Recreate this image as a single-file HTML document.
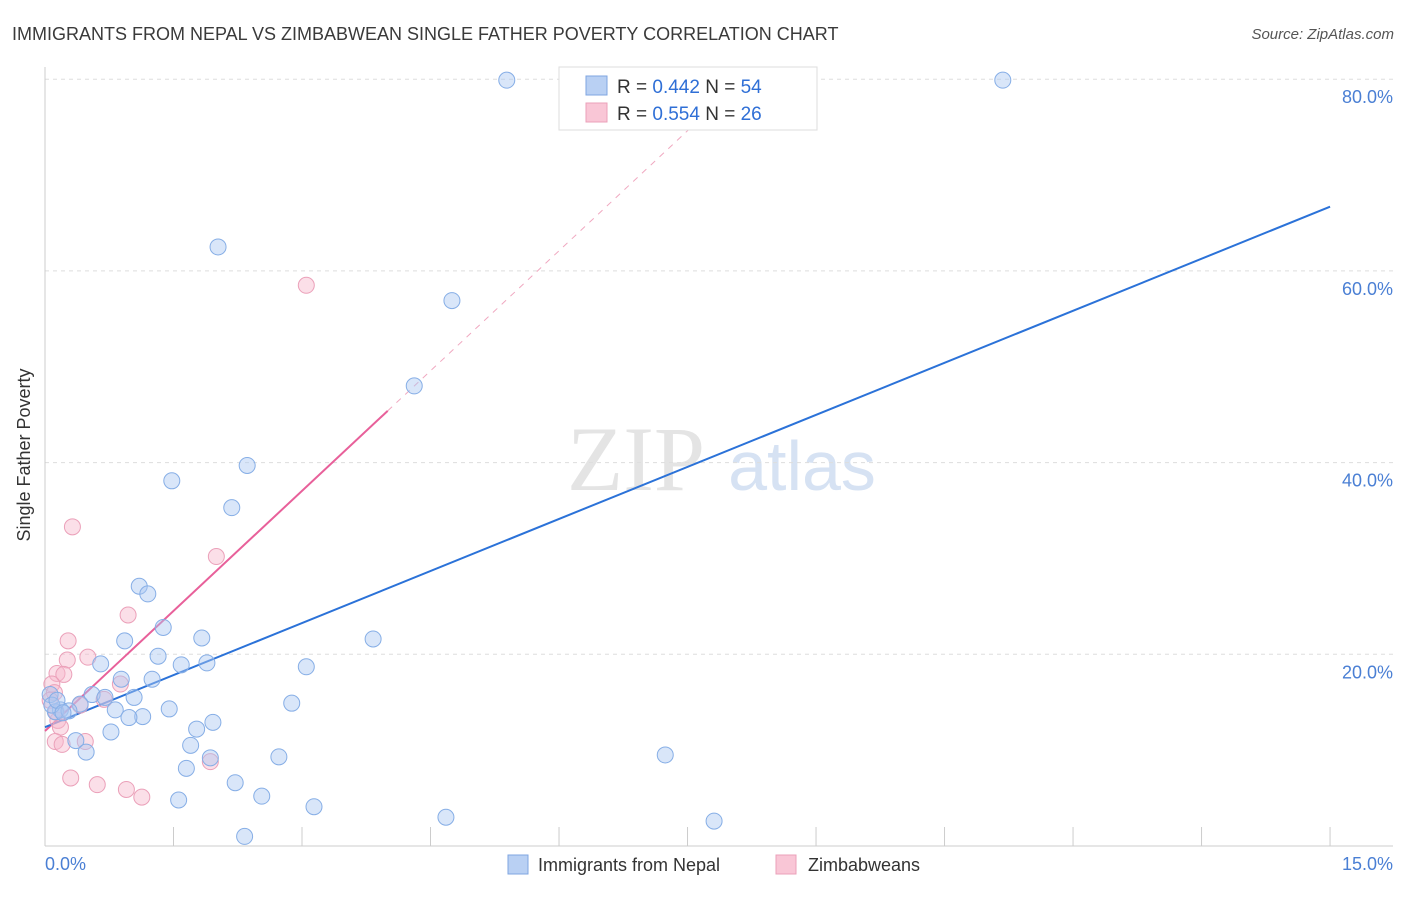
<!DOCTYPE html>
<html><head><meta charset="utf-8"><style>
body{margin:0;background:#fff;font-family:"Liberation Sans",sans-serif}
</style></head><body>
<svg id="chart" width="1406" height="892" xmlns="http://www.w3.org/2000/svg">
<text x="12" y="40" font-size="18" fill="#3a3a3a">IMMIGRANTS FROM NEPAL VS ZIMBABWEAN SINGLE FATHER POVERTY CORRELATION CHART</text>
<text x="1394" y="39" font-size="15" fill="#555" font-style="italic" text-anchor="end">Source: ZipAtlas.com</text>
<g>
<text x="636" y="490" font-size="92" fill="#e4e4e4" font-family="Liberation Serif" text-anchor="middle">ZIP</text>
<text x="802" y="490" font-size="70" fill="#d6e2f3" text-anchor="middle">atlas</text>
</g>
<g id="grid"></g>
<g id="axes"></g>
<g id="lines"></g>
<g id="points"></g>
<text x="30" y="455" font-size="18" fill="#333" transform="rotate(-90 30 455)" text-anchor="middle">Single Father Poverty</text>
<text x="45" y="870" font-size="18" fill="#4a7fd4">0.0%</text>
<text x="1393" y="870" font-size="18" fill="#4a7fd4" text-anchor="end">15.0%</text>
<g>
<rect x="559" y="67" width="258" height="63" fill="#fff" stroke="#ddd"/>
<rect x="586" y="76" width="21" height="19" fill="#b9d0f3" stroke="#7fa6e0"/>
<rect x="586" y="103" width="21" height="19" fill="#f9c6d6" stroke="#eba0b9"/>
<text x="617" y="93" font-size="19" fill="#333">R = <tspan fill="#2f6fd6">0.442</tspan>   N = <tspan fill="#2f6fd6">54</tspan></text>
<text x="617" y="120" font-size="19" fill="#333">R = <tspan fill="#2f6fd6">0.554</tspan>   N = <tspan fill="#2f6fd6">26</tspan></text>
</g>
<g>
<rect x="508" y="855" width="20" height="19" fill="#b9d0f3" stroke="#7fa6e0"/>
<text x="538" y="871" font-size="18" fill="#333">Immigrants from Nepal</text>
<rect x="776" y="855" width="20" height="19" fill="#f9c6d6" stroke="#eba0b9"/>
<text x="808" y="871" font-size="18" fill="#333">Zimbabweans</text>
</g>
</svg>
<script>
const yTicks=[20,40,60,80];
const yTickLabels=["20.0%","40.0%","60.0%","80.0%"];
const xTicks=[1.5,3,4.5,6,7.5,9,10.5,12,13.5,15];
const nepalX=[5.39,11.18,2.02,4.75,4.31,2.36,1.48,2.18,1.10,1.20,1.38,0.93,1.83,3.83,1.32,1.59,1.89,3.05,0.65,1.25,0.89,0.55,0.70,1.04,0.41,0.18,0.12,0.28,0.82,1.14,0.98,1.45,2.88,1.96,1.77,0.77,0.36,0.48,1.70,1.93,2.73,7.24,1.65,2.22,2.53,1.56,3.14,4.68,7.81,2.33,0.06,0.08,0.14,0.21];
const nepalY=[79.9,79.9,62.5,56.9,48.0,39.7,38.1,35.3,27.1,26.3,22.8,21.4,21.7,21.6,19.8,18.9,19.1,18.7,19.0,17.4,17.4,15.8,15.5,15.5,14.8,14.2,14.0,14.1,14.2,13.5,13.4,14.3,14.9,12.9,12.2,11.9,11.0,9.8,10.5,9.2,9.3,9.5,8.1,6.6,5.2,4.8,4.1,3.0,2.6,1.0,15.8,14.7,15.2,13.9];
const zimX=[3.05,0.32,2.00,0.97,0.27,0.26,0.50,0.14,0.22,0.88,0.08,0.11,0.41,0.69,0.15,0.18,0.47,0.12,0.20,0.30,0.61,0.95,1.13,1.93,0.06,0.13];
const zimY=[58.5,33.3,30.2,24.1,21.4,19.4,19.7,18.0,17.9,16.9,16.9,16.0,14.7,15.3,13.1,12.4,10.9,10.9,10.6,7.1,6.4,5.9,5.1,8.8,15.2,14.0];
const nepalLine=[12.4,66.7]; // y at x=0 and x=15
const zimLine=[12.0,45.4,4.0]; // y at 0, y at end, x end
const X=v=>45+v*85.67, Y=v=>846-v*9.585;
const NS="http://www.w3.org/2000/svg";
function mk(t,a,p){const e=document.createElementNS(NS,t);for(const k in a)e.setAttribute(k,a[k]);document.getElementById(p).appendChild(e);return e;}
yTicks.forEach((v,i)=>{
 const g=mk('line',{x1:45,x2:1393,y1:Y(v),y2:Y(v),stroke:'#ddd','stroke-dasharray':'4,4'},'grid');
 
 
 const t=mk('text',{x:1393,y:Y(v)+24,'font-size':18,fill:'#4a7fd4','text-anchor':'end'},'grid');
 t.textContent=yTickLabels[i];
 
 
});
const ax=mk('line',{x1:45,x2:45,y1:67,y2:846,stroke:'#ccc'},'axes');


const bx=mk('line',{x1:45,x2:1393,y1:846,y2:846,stroke:'#ccc'},'axes');


xTicks.forEach(v=>{
 const t=mk('line',{x1:X(v),x2:X(v),y1:827,y2:846,stroke:'#ccc'},'axes');
 
 
});
function pts(xs,ys,fill,stroke,name){
 xs.forEach((x,i)=>{
  const c=mk('circle',{cx:X(x),cy:Y(ys[i]),r:8,fill:fill,stroke:stroke,'stroke-width':1},'points');
  
  
 });
}
pts(zimX,zimY,'rgba(246,183,203,0.45)','#eba0b9','zimbabwe-point');
pts(nepalX,nepalY,'rgba(170,200,242,0.45)','#86aee6','nepal-point');
const slope=(zimLine[1]-zimLine[0])/zimLine[2];
const dash=mk('line',{x1:X(zimLine[2]),y1:Y(zimLine[1]),x2:X((80-zimLine[0])/slope),y2:Y(80),stroke:'#f0a8c0','stroke-dasharray':'6,6','stroke-width':1},'lines');


const zl=mk('line',{x1:X(0),y1:Y(zimLine[0]),x2:X(zimLine[2]),y2:Y(zimLine[1]),stroke:'#e8609a','stroke-width':2},'lines');


const nl=mk('line',{x1:X(0),y1:Y(nepalLine[0]),x2:X(15),y2:Y(nepalLine[1]),stroke:'#2b72d8','stroke-width':2},'lines');


</script>
</body></html>
